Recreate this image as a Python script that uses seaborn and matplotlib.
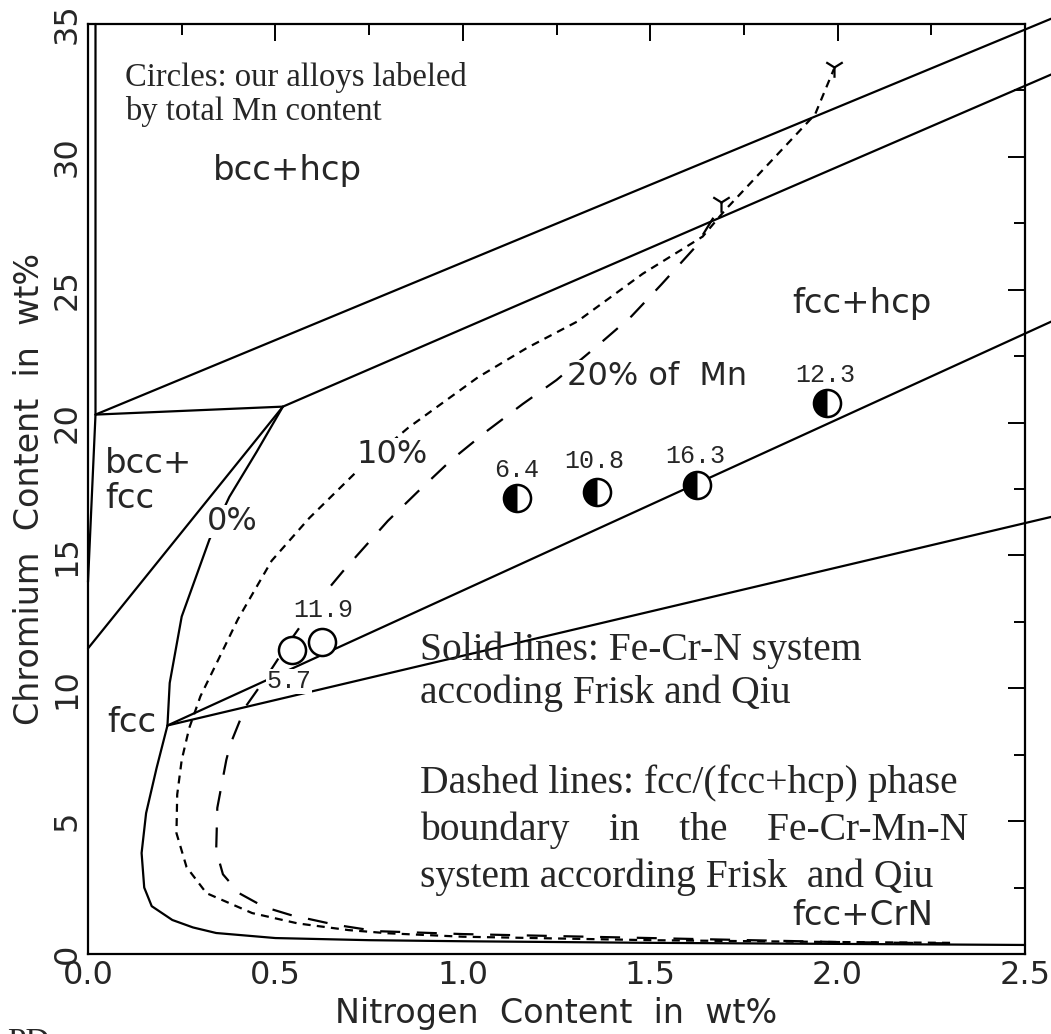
import matplotlib
matplotlib.use("Agg")
import matplotlib.pyplot as plt
from matplotlib.markers import MarkerStyle
from matplotlib.ticker import MultipleLocator, FormatStrFormatter
import seaborn as sns

# --- Fe-Cr-N phase boundaries (solid lines), N wt% vs Cr wt%
upper_n = [0.02, 2.57]
upper_cr = [20.3, 35.2]
mid_n = [0.02, 0.52, 2.57]
mid_cr = [20.3, 20.6, 33.1]
bccfcc_n = [0.0, 0.52]
bccfcc_cr = [11.5, 20.6]
bccedge_n = [0.0, 0.02, 0.02]
bccedge_cr = [14.0, 20.3, 35.0]
fcc0_n = [0.52, 0.45, 0.377, 0.324, 0.25, 0.218, 0.212, 0.183, 0.155, 0.143, 0.15, 0.17,
          0.225, 0.28, 0.342, 0.5, 0.75, 1.0, 1.5, 2.0, 2.5]
fcc0_cr = [20.6, 18.9, 17.2, 15.6, 12.7, 10.2, 8.6, 7.0, 5.3, 3.8, 2.5, 1.8,
           1.28, 1.0, 0.79, 0.6, 0.52, 0.48, 0.42, 0.38, 0.34]
lineA_n = [0.212, 2.57]
lineA_cr = [8.6, 23.8]
lineB_n = [0.212, 2.57]
lineB_cr = [8.6, 16.45]

# --- fcc/(fcc+hcp) boundaries in Fe-Cr-Mn-N (dashed)
mn10_n = [2.3, 2.0, 1.5, 1.0, 0.8, 0.695, 0.56, 0.438, 0.316, 0.263, 0.236, 0.238, 0.25,
          0.27, 0.30, 0.345, 0.40, 0.49, 0.59, 0.72, 0.854, 1.04, 1.17, 1.305, 1.48,
          1.64, 1.70, 1.80, 1.94, 1.99]
mn10_cr = [0.42, 0.45, 0.52, 0.65, 0.78, 0.9, 1.15, 1.54, 2.29, 3.27, 4.55, 6.0, 7.3,
           8.5, 9.7, 11.0, 12.6, 14.8, 16.4, 18.2, 19.8, 21.7, 22.8, 23.8, 25.6,
           27.0, 28.0, 29.5, 31.6, 33.3]
mn20_n = [2.3, 2.0, 1.5, 1.0, 0.77, 0.66, 0.54, 0.47, 0.403, 0.36, 0.342, 0.345, 0.369,
          0.38, 0.42, 0.47, 0.53, 0.615, 0.68, 0.80, 0.88, 0.97, 1.066, 1.16, 1.25,
          1.36, 1.45, 1.53, 1.62, 1.69]
mn20_cr = [0.4, 0.45, 0.6, 0.75, 0.86, 1.1, 1.47, 1.77, 2.29, 3.0, 3.9, 5.5, 7.3,
           7.9, 9.3, 10.3, 11.6, 13.3, 14.4, 16.3, 17.4, 18.6, 19.7, 20.7, 21.6,
           22.9, 24.0, 25.2, 26.6, 28.2]
end_n = [1.99, 1.69]
end_cr = [33.4, 28.3]

# --- our alloys (labelled by total Mn)
open_n = [0.544, 0.624]
open_cr = [11.44, 11.74]
half_n = [1.144, 1.357, 1.624, 1.971]
half_cr = [17.16, 17.39, 17.65, 20.74]
lab_n = [0.536, 0.629, 1.144, 1.352, 1.621, 1.968]
lab_cr = [10.0, 12.68, 17.95, 18.29, 18.48, 21.53]
lab_txt = ["5.7", "11.9", "6.4", "10.8", "16.3", "12.3"]

sns.set_theme(style="white")
plt.rcParams['font.family'] = ['DejaVu Sans']
plt.rcParams['axes.linewidth'] = 1.6

fig = plt.figure(figsize=(10.51, 10.34), dpi=100)
ax = fig.add_axes([88 / 1051, 80 / 1034, 937 / 1051, 930 / 1034])

lw = 1.6
for xs, ys in [(upper_n, upper_cr), (mid_n, mid_cr), (bccfcc_n, bccfcc_cr),
               (bccedge_n, bccedge_cr), (fcc0_n, fcc0_cr), (lineA_n, lineA_cr),
               (lineB_n, lineB_cr)]:
    sns.lineplot(x=xs, y=ys, ax=ax, sort=False, estimator=None, color='black',
                 lw=lw, clip_on=False)

sns.lineplot(x=mn10_n, y=mn10_cr, ax=ax, sort=False, estimator=None, color='black',
             lw=lw, linestyle=(0, (3.6, 2.8)))
sns.lineplot(x=mn20_n, y=mn20_cr, ax=ax, sort=False, estimator=None, color='black',
             lw=lw, linestyle=(0, (9, 7.5)))
sns.scatterplot(x=end_n, y=end_cr, ax=ax, marker='1', s=220, color='black', linewidth=1.6)

# circles: open ones and half-filled ones
sns.scatterplot(x=open_n, y=open_cr, ax=ax, s=380, facecolor='white', edgecolor='black',
                linewidth=1.8, zorder=5)
sns.scatterplot(x=half_n, y=half_cr, ax=ax, s=380, facecolor='white', edgecolor='black',
                linewidth=1.8, zorder=5)
sns.scatterplot(x=half_n, y=half_cr, ax=ax, s=380, marker=MarkerStyle('o', fillstyle='left'),
                color='black', linewidth=0, zorder=6)

for x, y, t in zip(lab_n, lab_cr, lab_txt):
    ax.text(x, y, t, family='Liberation Mono', fontsize=18, ha='center', va='baseline',
            bbox=dict(facecolor='white', edgecolor='none', pad=0.5), zorder=4)

# region / curve labels
wbox = dict(facecolor='white', edgecolor='none', pad=1)
sans = dict(family='DejaVu Sans', fontsize=24.5, va='baseline', ha='left')
ax.text(0.333, 29.13, "bcc+hcp", **sans)
ax.text(0.045, 18.10, "bcc+", **sans)
ax.text(0.045, 16.79, "fcc", **sans)
ax.text(0.051, 8.36, "fcc", **sans, bbox=wbox)
ax.text(1.88, 24.12, "fcc+hcp", **sans)
ax.text(1.88, 1.09, "fcc+CrN", **sans)
pct = dict(family='DejaVu Sans', fontsize=23, va='baseline', ha='left', bbox=wbox)
ax.text(0.317, 15.96, "0%", **pct)
ax.text(0.717, 18.48, "10%", **pct)
ax.text(1.277, 21.41, "20% of  Mn", **pct)

ax.text(0.099, 32.67, "Circles: our alloys labeled", family='Liberation Serif',
        fontsize=23.5, va='baseline')
ax.text(0.099, 31.39, "by total Mn content", family='Liberation Serif',
        fontsize=23.5, va='baseline')
serif = dict(family='Liberation Serif', fontsize=28.5, va='baseline', ha='left')
ax.text(0.885, 11.07, "Solid lines: Fe-Cr-N system", **serif)
ax.text(0.885, 9.45, "accoding Frisk and Qiu", **serif)
ax.text(0.885, 6.06, "Dashed lines: fcc/(fcc+hcp) phase", **serif)
ax.text(0.885, 4.29, "boundary    in    the    Fe-Cr-Mn-N", **serif)
ax.text(0.885, 2.52, "system according Frisk  and Qiu", **serif)

ax.set_xlim(0, 2.5)
ax.set_ylim(0, 35)
ax.xaxis.set_major_locator(MultipleLocator(0.5))
ax.xaxis.set_minor_locator(MultipleLocator(0.25))
ax.yaxis.set_major_locator(MultipleLocator(5))
ax.yaxis.set_minor_locator(MultipleLocator(2.5))
ax.xaxis.set_major_formatter(FormatStrFormatter('%.1f'))
ax.tick_params(which='both', direction='in', top=True, right=True, color='black',
               width=1.4, labelsize=23, pad=4)
ax.tick_params(which='major', length=12)
ax.tick_params(which='minor', length=8)
ax.tick_params(axis='y', labelrotation=90)
for lab in ax.get_yticklabels():
    lab.set_va('center')

for s in ax.spines.values():
    s.set_color('black')
    s.set_linewidth(1.6)

ax.set_xlabel("Nitrogen  Content  in  wt%", fontsize=24, labelpad=5)
ax.set_ylabel("Chromium  Content  in  wt%", fontsize=24, labelpad=4)

fig.text(0.007, 0.006, "PD", family='Liberation Serif', fontsize=24, va='top')

fig.savefig("out.png", dpi=100, facecolor='white')
